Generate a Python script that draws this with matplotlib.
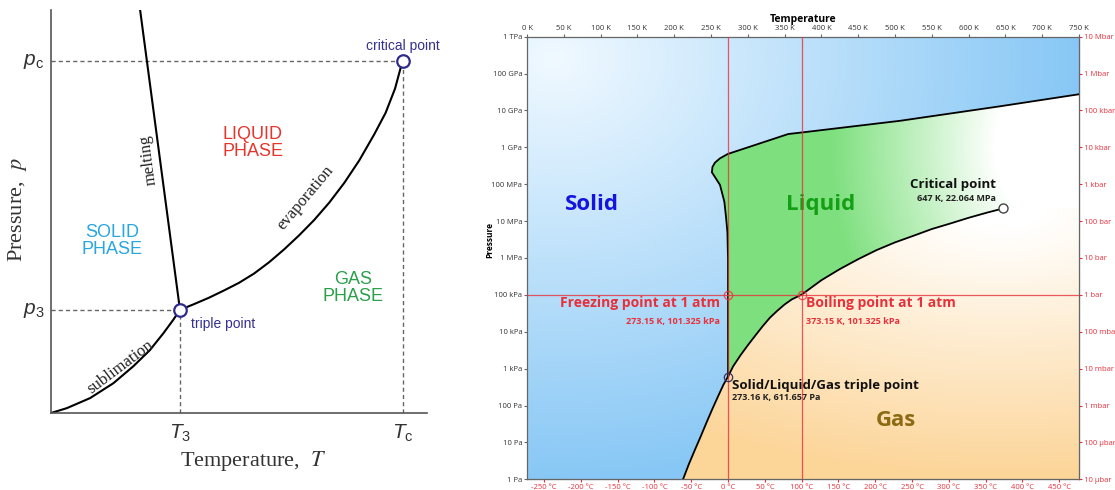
import numpy as np
import matplotlib.pyplot as plt
from matplotlib.ticker import NullLocator

plt.rcParams['font.family'] = ['Open Sans', 'DejaVu Sans']
plt.rcParams['mathtext.fontset'] = 'custom'
plt.rcParams['mathtext.it'] = 'Liberation Sans:italic'
plt.rcParams['mathtext.rm'] = 'Liberation Sans'

# ---- left: generic phase diagram (axis units 0..1)
T3, p3 = 0.343, 0.256
Tc, pc = 0.935, 0.874
sub_x = [0.0, 0.042, 0.104, 0.166, 0.219, 0.263, 0.299, 0.325, 0.343]
sub_y = [0.0, 0.012, 0.037, 0.074, 0.116, 0.156, 0.198, 0.231, 0.256]
evap_x = [0.343, 0.38, 0.42, 0.46, 0.50, 0.54, 0.58, 0.62, 0.66, 0.70, 0.74, 0.78, 0.82,
          0.86, 0.89, 0.915, 0.935]
evap_y = [0.256, 0.270, 0.286, 0.304, 0.323, 0.346, 0.374, 0.406, 0.441, 0.479, 0.522, 0.571,
          0.627, 0.692, 0.745, 0.805, 0.874]
melt_x = [0.343, 0.237]
melt_y = [0.256, 1.0]

# ---- right: water, temperature in K, pressure in Pa
sub_T = [212, 220, 228, 236, 244, 252, 260, 267, 273.16]
sub_P = [1.0, 2.6, 6.2, 14.5, 35, 82, 185, 370, 611.657]
vap_T = [273.16, 280, 290, 300, 310, 320, 330, 340, 350, 360, 373.15, 400, 425, 450, 475,
         500, 525, 550, 575, 600, 625, 647]
vap_P = [611.657, 1.15e3, 2.3e3, 4.3e3, 7.8e3, 1.4e4, 2.4e4, 3.7e4, 5.5e4, 7.6e4, 101325,
         2.5e5, 5.0e5, 9.3e5, 1.64e6, 2.65e6, 4.0e6, 6.1e6, 8.6e6, 1.23e7, 1.7e7, 22.064e6]
fus_T = [273.16, 273.1, 272.3, 270.4, 268.1, 262.2, 256.0, 251.2, 252.0, 255.4, 262.0, 272.7,
         355, 371, 507, 643, 750]
fus_P = [611.657, 1e6, 5e6, 1.3e7, 3.4e7, 9.6e7, 1.5e8, 2.1e8, 2.95e8, 3.85e8, 5.0e8, 6.6e8,
         2.3e9, 2.5e9, 5.25e9, 1.3e10, 2.75e10]
freeze = (273.15, 101325)
boil = (373.15, 101325)
triple = (273.16, 611.657)
crit = (647, 22.064e6)

pa_ticks = [10.0 ** k for k in range(13)]
pa_labels = ['1 Pa', '10 Pa', '100 Pa', '1 kPa', '10 kPa', '100 kPa', '1 MPa', '10 MPa',
             '100 MPa', '1 GPa', '10 GPa', '100 GPa', '1 TPa']
bar_ticks = [10.0 ** k for k in range(-5, 8)]
bar_labels = ['10 µbar', '100 µbar', '1 mbar', '10 mbar', '100 mbar', '1 bar', '10 bar',
              '100 bar', '1 kbar', '10 kbar', '100 kbar', '1 Mbar', '10 Mbar']
k_ticks = list(range(0, 751, 50))
c_ticks = list(range(-250, 451, 50))

fig = plt.figure(figsize=(11.15, 4.9), dpi=100)

# ================= left chart =================
ax1 = fig.add_axes([51 / 1115, 77 / 490, 376 / 1115, 403 / 490])
ax1.set_xlim(0, 1)
ax1.set_ylim(0, 1)
for s in ['top', 'right']:
    ax1.spines[s].set_visible(False)
for s in ['left', 'bottom']:
    ax1.spines[s].set_color('#555555')
    ax1.spines[s].set_linewidth(1.2)
ax1.set_xticks([])
ax1.set_yticks([])

dash = dict(color='#666666', lw=1.0, dashes=(3, 2.2))
ax1.plot([0, Tc], [pc, pc], **dash)
ax1.plot([Tc, Tc], [0, pc], **dash)
ax1.plot([0, T3], [p3, p3], **dash)
ax1.plot([T3, T3], [0, p3], **dash)

ax1.plot(sub_x, sub_y, color='black', lw=1.5)
ax1.plot(evap_x, evap_y, color='black', lw=1.5)
ax1.plot(melt_x, melt_y, color='black', lw=1.5)
ax1.plot([T3, Tc], [p3, pc], 'o', ms=9, mfc='white', mec='#2e2b8c', mew=1.6, zorder=5)

sans = dict(family='Liberation Sans')
serif = dict(family='Liberation Serif')
ax1.text(Tc, pc + 0.037, 'critical point', color='#34318f', fontsize=10, ha='center',
         va='center', **sans)
ax1.text(T3 + 0.03, p3 - 0.035, 'triple point', color='#34318f', fontsize=10, ha='left',
         va='center', **sans)
ax1.text(0.537, 0.67, 'LIQUID\nPHASE', color='#e5352d', fontsize=13, ha='center', va='center',
         linespacing=1.05, **sans)
ax1.text(0.162, 0.427, 'SOLID\nPHASE', color='#27a6e0', fontsize=13, ha='center', va='center',
         linespacing=1.05, **sans)
ax1.text(0.803, 0.31, 'GAS\nPHASE', color='#2aa04a', fontsize=13, ha='center', va='center',
         linespacing=1.05, **sans)
ax1.text(0.258, 0.628, 'melting', rotation=97.5, fontsize=12, ha='center', va='center',
         color='#222222', **serif)
ax1.text(0.678, 0.533, 'evaporation', rotation=50, fontsize=12, ha='center', va='center',
         color='#222222', **serif)
ax1.text(0.184, 0.114, 'sublimation', rotation=37, fontsize=12, ha='center', va='center',
         color='#222222', **serif)

ax1.text(-0.018, pc, '$p_\\mathrm{c}$', fontsize=15, ha='right', va='center', color='#333333')
ax1.text(-0.018, p3, '$p_3$', fontsize=15, ha='right', va='center', color='#333333')
ax1.text(T3, -0.05, '$T_3$', fontsize=15, ha='center', va='center', color='#333333')
ax1.text(Tc, -0.05, '$T_\\mathrm{c}$', fontsize=15, ha='center', va='center', color='#333333')
fig.text(253 / 1115, 1 - 461 / 490, 'Temperature,  $T$', fontsize=16, ha='center', va='center',
         color='#333333', math_fontfamily='stix', **serif)
fig.text(18 / 1115, 1 - 210 / 490, 'Pressure,  $p$', fontsize=16, ha='center', va='center',
         rotation=90, color='#333333', math_fontfamily='stix', **serif)

# ================= right chart =================
ax2 = fig.add_axes([527 / 1115, 10.7 / 490, 552 / 1115, 442.6 / 490])
ax2.set_yscale('log')
ax2.set_xlim(0, 750)
ax2.set_ylim(1, 1e12)

# background gradients, computed on a grid in (T, log P) and clipped to each phase area
Te = np.linspace(0, 750, 377)
le = np.linspace(0, 12, 301)
U, V = np.meshgrid((Te[:-1] + Te[1:]) / 2 / 750, (le[:-1] + le[1:]) / 2 / 12)
uc, vc = crit[0] / 750, np.log10(crit[1]) / 12


def blend(light, dark, f):
    f = f[..., None]
    return np.array(light) * (1 - f) + np.array(dark) * f


solid_rgb = blend([0.94, 0.975, 1.0], [0.53, 0.78, 0.96],
                  np.clip(np.hypot(U - 0.05, V - 0.95) / 0.95, 0, 1))
liq_rgb = blend([1, 1, 1], [0.49, 0.875, 0.49],
                np.clip((np.hypot(U - 0.95, (V - 0.75) * 0.6) - 0.1) / 0.3, 0, 1))
gas_rgb = blend([1, 1, 1], [0.988, 0.835, 0.60],
                np.clip((np.hypot((U - uc) * 0.6, V - vc) - 0.04) / 0.56, 0, 1))

solid_poly = ax2.fill([0] + sub_T + fus_T[1:] + [750, 0], [1] + sub_P + fus_P[1:] + [1e12, 1e12],
                      fc='none', ec='none')[0]
liq_poly = ax2.fill(fus_T + [750] + vap_T[::-1], fus_P + [crit[1]] + vap_P[::-1],
                    fc='none', ec='none')[0]
gas_poly = ax2.fill(sub_T + vap_T[1:] + [750, 750], sub_P + vap_P[1:] + [crit[1], 1],
                    fc='none', ec='none')[0]
for rgb, poly in [(solid_rgb, solid_poly), (liq_rgb, liq_poly), (gas_rgb, gas_poly)]:
    m = ax2.pcolormesh(Te, 10 ** le, rgb, shading='flat', zorder=0.5, rasterized=True)
    m.set_clip_path(poly)

ax2.plot(sub_T, sub_P, color='black', lw=1.3, zorder=3)
ax2.plot(vap_T, vap_P, color='black', lw=1.3, zorder=3)
ax2.plot(fus_T, fus_P, color='black', lw=1.3, zorder=3)

red = '#e8303a'
ax2.axvline(freeze[0], color=red, lw=0.9, alpha=0.8, zorder=4)
ax2.axvline(boil[0], color=red, lw=0.9, alpha=0.8, zorder=4)
ax2.axhline(freeze[1], color=red, lw=0.9, alpha=0.8, zorder=4)
ax2.plot(*freeze, 'o', ms=6, mfc='none', mec=red, mew=0.9, alpha=0.8, zorder=5)
ax2.plot(*boil, 'o', ms=6, mfc='none', mec=red, mew=0.9, alpha=0.8, zorder=5)
ax2.plot(*triple, 'o', ms=6, mfc='none', mec='#333355', mew=0.9, zorder=5)
ax2.plot(*crit, 'o', ms=6.5, mfc='white', mec='#444444', mew=1.0, zorder=5)

ax2.text(88, 2.75e7, 'Solid', color='#1414e0', fontsize=16, weight='bold', ha='center', va='center')
ax2.text(399, 2.75e7, 'Liquid', color='#14a014', fontsize=16, weight='bold', ha='center', va='center')
ax2.text(501, 40.5, 'Gas', color='#8a6a12', fontsize=16, weight='bold', ha='center', va='center')
ax2.text(637, 10 ** 7.98, 'Critical point', fontsize=9.5, weight='bold', ha='right', va='center',
         color='#111111')
ax2.text(637, 10 ** 7.6, '647 K, 22.064 MPa', fontsize=6.5, weight='bold', ha='right', va='center',
         color='#222222')
ax2.text(262, 10 ** 4.77, 'Freezing point at 1 atm', fontsize=10, weight='bold', ha='right',
         va='center', color=red)
ax2.text(262, 10 ** 4.27, '273.15 K, 101.325 kPa', fontsize=6.5, weight='bold', ha='right',
         va='center', color=red)
ax2.text(379, 10 ** 4.77, 'Boiling point at 1 atm', fontsize=10, weight='bold', ha='left',
         va='center', color=red)
ax2.text(379, 10 ** 4.27, '373.15 K, 101.325 kPa', fontsize=6.5, weight='bold', ha='left',
         va='center', color=red)
ax2.text(278, 10 ** 2.53, 'Solid/Liquid/Gas triple point', fontsize=9.5, weight='bold', ha='left',
         va='center', color='#111111')
ax2.text(278, 10 ** 2.21, '273.16 K, 611.657 Pa', fontsize=6.5, weight='bold', ha='left',
         va='center', color='#222222')

for s in ax2.spines.values():
    s.set_color('#666666')
    s.set_linewidth(0.9)

ax2.xaxis.tick_top()
ax2.set_xticks(k_ticks, [f'{t} K' for t in k_ticks])
ax2.tick_params(axis='x', length=2.5, pad=1, labelsize=5.5, color='#666666', labelcolor='#333333')
ax2.set_yticks(pa_ticks, pa_labels)
ax2.yaxis.set_minor_locator(NullLocator())
ax2.tick_params(axis='y', length=2.5, pad=1, labelsize=5.5, color='#666666', labelcolor='#333333')
ax2.set_xlabel('Temperature', fontsize=7.5, weight='bold', labelpad=2)
ax2.xaxis.set_label_position('top')
fig.text(490 / 1115, 1 - 240 / 490, 'Pressure', rotation=90, weight='bold', fontsize=6,
         ha='center', va='center')

secy = ax2.secondary_yaxis('right', functions=(lambda p: p / 1e5, lambda b: b * 1e5))
secy.set_yticks(bar_ticks, bar_labels)
secy.yaxis.set_minor_locator(NullLocator())
secy.tick_params(length=2.5, pad=1, labelsize=5.5, color=red, labelcolor=red)
secy.spines['right'].set_color('#666666')

secx = ax2.secondary_xaxis('bottom', functions=(lambda k: k - 273.15, lambda c: c + 273.15))
secx.set_xticks(c_ticks, [f'{c} °C' for c in c_ticks])
secx.tick_params(length=2.5, pad=1, labelsize=5.5, color=red, labelcolor=red)
secx.spines['bottom'].set_color('#666666')

fig.savefig('out.png', dpi=100)
